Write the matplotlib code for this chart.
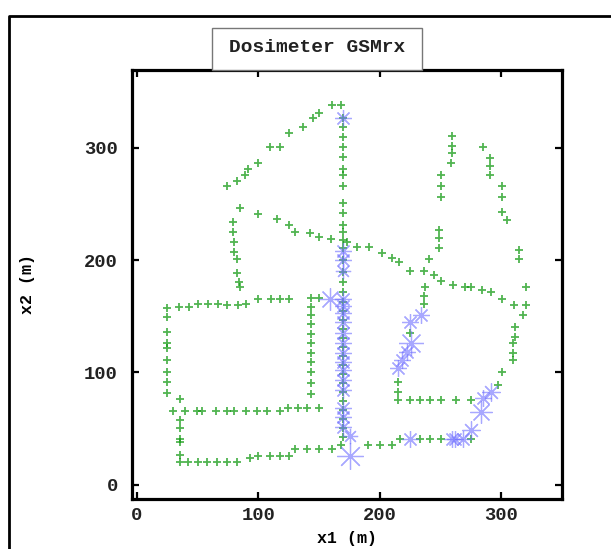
import matplotlib
matplotlib.use('Agg')
from matplotlib import pyplot as plt
from matplotlib.lines import Line2D
from matplotlib.patches import Rectangle

# green '+' points: measured dose positions (x1, x2 in metres)
gx = [74.2, 82.4, 89.2, 92, 100.2, 109.8, 118, 125.4, 137.1, 144.8, 150.3, 160.8, 168.2,
      170, 170, 170, 170, 170, 170, 170, 170, 170, 170, 170, 170, 170, 170, 170, 170, 170,
      170, 170, 170, 170, 170, 170, 170, 170, 170, 170, 170, 170, 170, 170, 170, 170, 170,
      85.1, 100.2, 115.3, 125.4, 130.3, 142.6, 150.3, 159.7, 172.8, 181, 191.4, 202, 209.8,
      215.8, 224.8, 236.3, 244.5, 250.8, 260.4, 270, 275.5, 284.5, 291.4, 301, 310.5,
      79.6, 79.6, 80.4, 80.4, 82.6, 82.6, 84, 85.3,
      24.9, 35.3, 43.5, 50.9, 59.1, 67.3, 74.7, 83.8, 90.1, 100.2, 110.4, 118, 125.6,
      24.9, 24.9, 24.9, 24.9, 24.9, 24.9, 24.9, 24.9, 35.8,
      29.8, 39.9, 49.5, 53.7, 65.4, 74.7, 80.2, 90.1, 98.8, 107.1, 118, 124.8, 133, 139.9, 150.3,
      143.5, 150.3, 143.5, 143.5, 143.5, 143.5, 143.5, 143.5, 143.5, 143.5, 143.5, 143.5,
      35.8, 35.8, 35.8, 35.8, 35.8, 35.8,
      42.6, 50.9, 58.3, 65.9, 74.7, 82.4, 93.3, 100.2, 109.8, 118, 125.6, 130.3, 139.9, 150.3,
      160.5, 167.9, 190.5, 200.2, 209.8, 216.6, 233, 241.2, 250.3, 275.5,
      237.1, 236.3, 236.3, 224.8, 215.2, 215.2, 215.2, 224.8, 233, 241.2, 250.8, 262.6, 275.5,
      240.7, 248.9, 248.9, 248.9, 250.3, 250.3, 250.3, 258.5, 259.9, 259.9, 259.9,
      285, 291.1, 291.1, 291.1, 301, 301, 301, 305.1, 314.6, 314.6, 320.1, 320.7, 317.9,
      311.1, 311.1, 309.7, 309.7, 309.7, 301, 297.4]
gy = [266, 270.5, 275.6, 280.9, 286.5, 300.7, 300.7, 312.6, 318, 326, 330.4, 337.8, 337.8,
      326, 318, 309.6, 300.7, 291.8, 280.9, 275.6, 266, 250.4, 241.5, 231.1, 225.2, 217.8,
      210.4, 200, 189.6, 180.7, 172, 163, 155, 147, 139, 131, 123, 115, 107, 99, 91, 83, 75,
      67, 59, 51, 43,
      245.9, 240.9, 236.2, 231.1, 225.2, 223.7, 220.7, 218.7, 216.3, 212, 212, 206, 201.5,
      198, 190.2, 190.2, 186.7, 181.3, 177.8, 175.7, 175.7, 173.3, 171.3, 165.3, 160,
      233.5, 225.2, 215.7, 206.8, 200.6, 188.2, 180.7, 176.3,
      157.1, 158, 158.5, 160.6, 160.6, 160.6, 160, 160, 160.6, 165.3, 165.3, 165.3, 165.3,
      149.6, 136.3, 126.5, 121.5, 111.1, 100.7, 91.8, 81.5, 76.2,
      65.8, 65.8, 65.8, 65.8, 65.8, 65.8, 65.8, 65.8, 65.8, 65.8, 65.8, 68.7, 68.7, 68.7, 68.7,
      166, 166, 158.5, 151.1, 142.8, 134, 126, 117.6, 109.6, 100.7, 90.4, 80.6,
      57.8, 50.4, 40.6, 38.5, 26.7, 20.7,
      20.7, 20.7, 20.7, 20.7, 20.7, 20.7, 23.7, 25.8, 25.8, 25.8, 25.8, 32, 32, 32,
      32, 35.6, 35.6, 35.6, 35.6, 40.6, 40.6, 40.6, 40.6, 40.6,
      176.3, 168, 160.6, 134.8, 91.8, 82.9, 75.6, 75.6, 75.6, 75.6, 75.6, 75.6, 75.6,
      200.9, 226.7, 219.8, 210.4, 256.3, 265.8, 275.6, 286, 295.4, 301.3, 310.2,
      300.7, 290.4, 283.4, 275.6, 265.8, 255.7, 242.4, 235.6, 208.9, 200.9, 175.7, 160, 151.1,
      140.7, 131.8, 126, 117, 111.1, 100.7, 88.9]

# blue stars: GSMrx readings, marker size follows the value
bx = [170, 170, 170, 170,
      170, 170, 170, 170, 170, 170, 170, 170, 170, 170, 170, 170, 170, 170,
      175.5, 175.5, 159,
      233.6, 224.8, 225.6, 222.6, 218, 215.2,
      291.4, 285, 283.7, 275.5, 268.6, 261.8, 259.1, 224.8]
by = [326, 208, 200, 190,
      165.3, 159.1, 152.6, 145.2, 134.8, 126, 117.6, 109.6, 102.2, 93.3, 84.4, 68.2, 60.7, 51.8,
      43.6, 25.5, 165.3,
      151.1, 144.6, 126, 118.5, 111.1, 103.7,
      82.9, 77, 65.2, 48.9, 40.6, 40.6, 40.6, 40.6]
bs = [12, 12, 12, 11,
      12, 12, 12, 12, 12, 12, 12, 12, 12, 12, 12, 12, 12, 12,
      11, 19, 16,
      12, 12, 18, 12, 12, 12,
      13, 12, 16, 13, 12, 12, 12, 12]

xticks = [0, 100, 200, 300]
yticks = [0, 100, 200, 300]

mono = 'Liberation Mono'

fig = plt.figure(figsize=(6.11, 5.49), dpi=100)
ax = fig.add_axes([0.2156, 0.0911, 0.7042, 0.7814])

ax.plot(gx, gy, ls='none', marker='+', ms=6, mew=1.3, color='#0e980e', alpha=0.72)
for x, y, s in zip(bx, by, bs):
    ax.plot(x, y, ls='none', marker=(8, 2, 0), ms=s, mew=0.9, color='#6f6fff', alpha=0.6)

ax.set_xlim(-4, 350)
ax.set_ylim(-12.5, 369)
ax.set_xticks(xticks)
ax.set_yticks(yticks)
ax.tick_params(direction='in', length=5, width=1.6, top=True, right=True, labelsize=13.5)
ax.tick_params(axis='x', pad=6)
ax.tick_params(axis='y', pad=10)
for lab in ax.get_xticklabels() + ax.get_yticklabels():
    lab.set_fontfamily(mono)
    lab.set_fontweight('bold')
    lab.set_color('#222222')
for sp in ax.spines.values():
    sp.set_linewidth(2.3)

ax.set_xlabel('x1 (m)', fontsize=12, fontfamily=mono, fontweight='bold', labelpad=5)
ax.set_ylabel('x2 (m)', fontsize=12, fontfamily=mono, fontweight='bold', labelpad=35)

# title in a grey box above the axes
fig.patches.append(Rectangle((211.5 / 611, 1 - 70 / 549), 210.5 / 611, 42 / 549,
                             transform=fig.transFigure, facecolor='white',
                             edgecolor='#777777', lw=1))
fig.text(316.7 / 611, 1 - 48 / 549, 'Dosimeter GSMrx', ha='center', va='center',
         fontsize=14, fontfamily=mono, fontweight='bold', color='#222222')

# outer frame (cut off at right and bottom)
fig.lines.append(Line2D([8.5 / 611, 8.5 / 611, 1.0], [0, 1 - 16 / 549, 1 - 16 / 549],
                        transform=fig.transFigure, color='black', lw=2))

fig.savefig('out.png', dpi=100)
